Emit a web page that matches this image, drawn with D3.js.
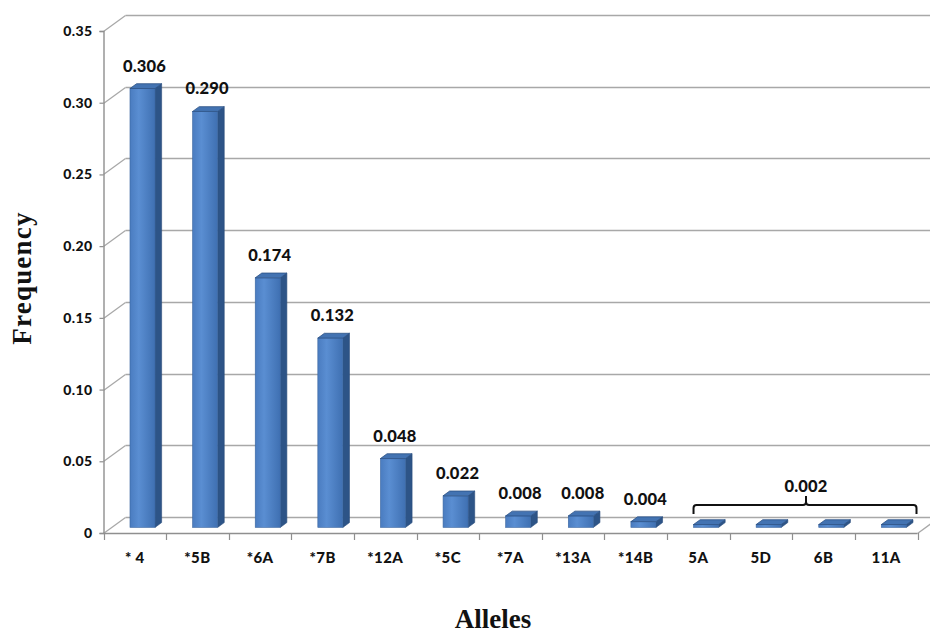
<!DOCTYPE html>
<html>
<head>
<meta charset="utf-8">
<script src="https://cdn.jsdelivr.net/npm/d3@7"></script>
<style>
  html, body { margin: 0; padding: 0; background: #fff; }
  svg { display: block; }
</style>
</head>
<body>
<svg id="chart" width="930" height="633"></svg>
<script>
// ---- data ----
const categories = ["* 4", "*5B", "*6A", "*7B", "*12A", "*5C", "*7A", "*13A", "*14B", "5A", "5D", "6B", "11A"];
const frequencies = [0.306, 0.290, 0.174, 0.132, 0.048, 0.022, 0.008, 0.008, 0.004, 0.002, 0.002, 0.002, 0.002];
const valueLabels = ["0.306", "0.290", "0.174", "0.132", "0.048", "0.022", "0.008", "0.008", "0.004", "", "", "", ""];
const yTickValues = [0, 0.05, 0.10, 0.15, 0.20, 0.25, 0.30, 0.35];
const yTickLabels = ["0", "0.05", "0.10", "0.15", "0.20", "0.25", "0.30", "0.35"];
const groupLabel = "0.002";
const groupFrom = "5A", groupTo = "11A";
const xTitle = "Alleles", yTitle = "Frequency";

// ---- layout ----
const svg = d3.select("#chart");
const x0 = 103.5, x1 = 917.5, yBase = 533, yTop = 31;
const DX = 22, DY = -16;          // depth of the 3D wall
const barDepthFront = 0.35, barDepthBack = 0.65;

const x = d3.scaleBand().domain(categories).range([x0, x1]).paddingInner(0).paddingOuter(0);
const y = d3.scaleLinear().domain([0, 0.35]).range([yBase, yTop]);

const defs = svg.append("defs");
const grad = defs.append("linearGradient").attr("id", "front").attr("x1", 0).attr("x2", 1).attr("y1", 0).attr("y2", 0);
grad.append("stop").attr("offset", "0%").attr("stop-color", "#4a7cc0");
grad.append("stop").attr("offset", "35%").attr("stop-color", "#5a8ed2");
grad.append("stop").attr("offset", "100%").attr("stop-color", "#3f70b2");

const gridColor = "#a8a8a8";
const labelFont = "Lato, 'Open Sans', sans-serif";

// back wall gridlines + left wall diagonals
const grid = svg.append("g");
yTickValues.forEach(v => {
  const yy = Math.round(y(v)) + 0.5;
  grid.append("line").attr("x1", x0 + DX).attr("x2", 935).attr("y1", yy + DY).attr("y2", yy + DY)
    .attr("stroke", gridColor).attr("stroke-width", 1.3);
  grid.append("line").attr("x1", x0).attr("y1", yy).attr("x2", x0 + DX).attr("y2", yy + DY)
    .attr("stroke", gridColor).attr("stroke-width", 1.3);
});
// floor right edge
grid.append("line").attr("x1", x1).attr("y1", yBase + 0.5).attr("x2", x1 + DX).attr("y2", yBase + 0.5 + DY)
  .attr("stroke", gridColor).attr("stroke-width", 1.3);

// front axes
const axisColor = "#8f8f8f";
const yAxis = d3.axisLeft(y).tickValues(yTickValues).tickSize(4).tickPadding(7)
  .tickFormat((d, i) => yTickLabels[i]);
const gy = svg.append("g").attr("transform", `translate(${x0},0)`).call(yAxis);
gy.select(".domain").attr("stroke", axisColor).attr("stroke-width", 1.4);
gy.selectAll(".tick line").attr("stroke", axisColor).attr("stroke-width", 1.2);
gy.selectAll(".tick text").attr("font-family", labelFont).attr("font-weight", 900)
  .attr("font-size", 14).attr("fill", "#111").attr("letter-spacing", 0.4);

// x baseline and category ticks
svg.append("line").attr("x1", x0).attr("x2", x1).attr("y1", yBase + 0.5).attr("y2", yBase + 0.5)
  .attr("stroke", axisColor).attr("stroke-width", 1.4);
const boundaries = categories.map(c => x(c)).concat([x1]);
svg.append("g").selectAll("line").data(boundaries).join("line")
  .attr("x1", d => Math.round(d) + 0.5).attr("x2", d => Math.round(d) + 0.5)
  .attr("y1", yBase).attr("y2", yBase + 7)
  .attr("stroke", axisColor).attr("stroke-width", 1.2);
svg.append("g").selectAll("text").data(categories).join("text")
  .attr("x", d => x(d) + x.bandwidth() / 2).attr("y", 563)
  .attr("text-anchor", "middle")
  .attr("font-family", labelFont).attr("font-weight", 900).attr("font-size", 15)
  .attr("letter-spacing", 0.4)
  .attr("fill", "#111").text(d => d);

// bars (3D)
const bw = x.bandwidth() * 0.4;
const fdx = DX * barDepthFront, fdy = DY * barDepthFront;
const ddx = DX * (barDepthBack - barDepthFront), ddy = DY * (barDepthBack - barDepthFront);
const bars = svg.append("g").selectAll("g").data(categories.map((c, i) => ({c, v: frequencies[i], l: valueLabels[i]})))
  .join("g");
bars.each(function(d) {
  const g = d3.select(this);
  const left = x(d.c) + (x.bandwidth() - bw) / 2 + fdx;
  const bottom = y(0) + fdy;
  const top = y(d.v) + fdy;
  const right = left + bw;
  // side
  g.append("path").attr("d", `M${right},${top} L${right + ddx},${top + ddy} L${right + ddx},${bottom + ddy} L${right},${bottom} Z`)
    .attr("fill", "#2d5487").attr("stroke", "#284b7a").attr("stroke-width", 0.6);
  // front
  g.append("rect").attr("x", left).attr("y", top).attr("width", bw).attr("height", Math.max(0.8, bottom - top))
    .attr("fill", "url(#front)").attr("stroke", "#3a66a0").attr("stroke-width", 0.6);
  // top
  g.append("path").attr("d", `M${left},${top} L${left + ddx},${top + ddy} L${right + ddx},${top + ddy} L${right},${top} Z`)
    .attr("fill", "#4373b2").attr("stroke", "#2c5285").attr("stroke-width", 0.8);
  if (d.l) {
    g.append("text").attr("x", left + bw / 2 + 2).attr("y", top - 17)
      .attr("text-anchor", "middle")
      .attr("font-family", labelFont).attr("font-weight", 900).attr("font-size", 16.5)
      .attr("fill", "#111").attr("letter-spacing", 0.2).text(d.l);
  }
});

// bracket for grouped label
const bx0 = x(groupFrom) + (x.bandwidth() - bw) / 2 + fdx;
const bx1 = x(groupTo) + x.bandwidth() - 1;
const by = y(0) - 28;
const bmid = (bx0 + bx1) / 2 + 1;
svg.append("path")
  .attr("d", `M${bx0},${by + 9} L${bx0},${by + 3} Q${bx0},${by} ${bx0 + 3},${by} L${bmid - 3},${by} Q${bmid},${by} ${bmid},${by - 3} L${bmid},${by - 9} M${bmid},${by - 3} Q${bmid},${by} ${bmid + 3},${by} L${bx1 - 3},${by} Q${bx1},${by} ${bx1},${by + 3} L${bx1},${by + 9}`)
  .attr("fill", "none").attr("stroke", "#111").attr("stroke-width", 2);
svg.append("text").attr("x", bmid).attr("y", by - 13).attr("text-anchor", "middle")
  .attr("font-family", labelFont).attr("font-weight", 900).attr("font-size", 16.5)
  .attr("fill", "#111").attr("letter-spacing", 0.2).text(groupLabel);

// axis titles
svg.append("text").attr("x", 493).attr("y", 628).attr("text-anchor", "middle")
  .attr("font-family", "'Liberation Serif', 'Times New Roman', serif").attr("font-weight", 700).attr("font-size", 27)
  .attr("fill", "#111").text(xTitle);
svg.append("text").attr("transform", "translate(31,278) rotate(-90)").attr("text-anchor", "middle")
  .attr("font-family", "'Liberation Serif', 'Times New Roman', serif").attr("font-weight", 700).attr("font-size", 27)
  .attr("fill", "#111").attr("letter-spacing", 1.2).text(yTitle);
</script>
</body>
</html>
